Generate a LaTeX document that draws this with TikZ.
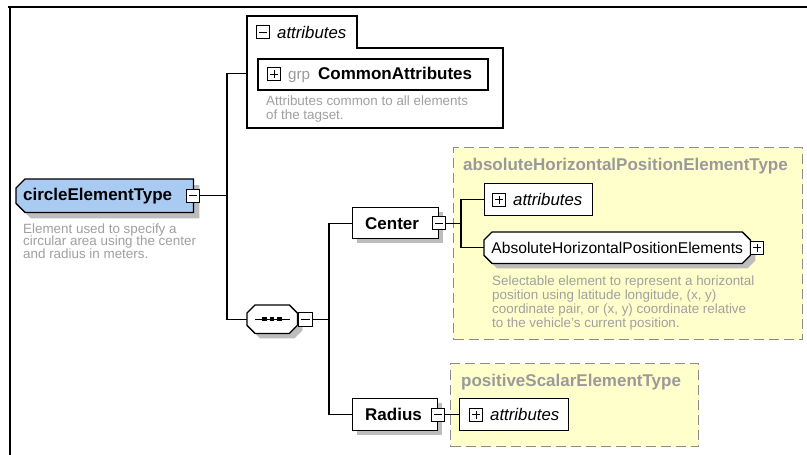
\documentclass[tikz,border=0pt]{standalone}
\usepackage{fontspec}
\setmainfont{Liberation Sans}
\usetikzlibrary{calc}

\definecolor{typefill}{HTML}{A9CBF2}
\definecolor{typebox}{HTML}{FFFFCC}
\definecolor{notegray}{HTML}{A0A0A0}
\definecolor{titlegray}{HTML}{9A9A9A}
\definecolor{dashgray}{HTML}{8C8C8C}
\definecolor{shade}{HTML}{BDBDBD}

\newcommand\xsdbold{\fontsize{17pt}{20pt}\selectfont\bfseries}
\newcommand\xsdplain{\fontsize{15.6pt}{18pt}\selectfont}
\newcommand\xsdital{\fontsize{16.8pt}{19pt}\selectfont\itshape}
\newcommand\xsdgrp{\fontsize{15.2pt}{18pt}\selectfont}

% octagon outline around node #1, chamfer #2, displaced by (#3,#4)
\newcommand\octpath[4]{%
  ([xshift=#2+#3,yshift=#4]#1.north west) -- ([xshift=-#2+#3,yshift=#4]#1.north east)
  -- ([xshift=#3,yshift=-#2+#4]#1.north east) -- ([xshift=#3,yshift=#2+#4]#1.south east)
  -- ([xshift=-#2+#3,yshift=#4]#1.south east) -- ([xshift=#2+#3,yshift=#4]#1.south west)
  -- ([xshift=#3,yshift=#2+#4]#1.south west) -- ([xshift=#3,yshift=-#2+#4]#1.north west) -- cycle}
% outline with the two left corners cut off
\newcommand\tagpath[4]{%
  ([xshift=#2+#3,yshift=#4]#1.north west) -- ([xshift=#3,yshift=#4]#1.north east)
  -- ([xshift=#3,yshift=#4]#1.south east) -- ([xshift=#2+#3,yshift=#4]#1.south west)
  -- ([xshift=#3,yshift=#2+#4]#1.south west) -- ([xshift=#3,yshift=-#2+#4]#1.north west) -- cycle}

\tikzset{
  frame/.style={line width=2.2pt, black},
  wire/.style={line width=1.2pt, black},
  shadowfill/.style={fill=shade},
  outline/.style={draw=black, line width=1.3pt},
  slot/.style={rectangle, inner sep=0pt, anchor=north west},
  elembox/.style={rectangle, draw, line width=1.3pt, fill=white, inner sep=0pt, anchor=north west},
  typearea/.style={rectangle, draw=dashgray, fill=typebox, line width=1pt,
    dash pattern=on 10pt off 5pt, anchor=north west, inner sep=0pt},
  typetitle/.style={anchor=base west, font=\xsdbold, text=titlegray, inner sep=0pt},
  groupline/.style={line width=1.2pt, draw=black, fill=white},
  note/.style={anchor=base west, align=left, text=notegray, inner sep=0pt},
  ctl/.style={rectangle, draw, line width=1pt, fill=white, minimum size=13pt, inner sep=0pt},
  minusctl/.style={ctl, path picture={
      \draw[line width=1pt] ([xshift=2.5pt]path picture bounding box.west)
        -- ([xshift=-2.5pt]path picture bounding box.east);}},
  plusctl/.style={ctl, path picture={
      \draw[line width=1pt] ([xshift=2.5pt]path picture bounding box.west)
        -- ([xshift=-2.5pt]path picture bounding box.east);
      \draw[line width=1pt] ([yshift=2.5pt]path picture bounding box.south)
        -- ([yshift=-2.5pt]path picture bounding box.north);}},
  seqdot/.style={rectangle, fill=black, minimum size=4.5pt, inner sep=0pt},
  boxshadow/.style={fill=shade, draw=none},
}

\begin{document}
\begin{tikzpicture}[x=1pt,y=-1pt]
\useasboundingbox (0,0) rectangle (807,455);
\fill[white] (0,0) rectangle (807,455);

% window frame
\draw[frame] (8,7) -- (807,7);
\draw[frame] (10,6) -- (10,455);

% complex type areas
\node[typearea, minimum width=349pt, minimum height=192pt] (ahpetype) at (453,147) {};
\node[typetitle] (ahpetitle) at (463,170.5) {absoluteHorizontalPositionElementType};
\node[typearea, minimum width=248pt, minimum height=83pt] (psetype) at (450,363) {};
\node[typetitle] (psetitle) at (461,386.5) {positiveScalarElementType};

% attribute group of circleElementType
\draw[groupline] (247,16) -- (357,16) -- (357,48) -- (503,48) -- (503,128) -- (247,128) -- cycle;
\coordinate (attrin) at (247,73.5);
\node[minusctl] (attrctl) at (263,32) {};
\node[anchor=west, font=\xsdital, inner sep=0pt] (attrlabel) at (277,32) {attributes};
\node[elembox, line width=1.8pt, minimum width=230pt, minimum height=31pt] (grp) at (257,58) {};
\node[plusctl] (grpctl) at ([xshift=17pt]grp.west) {};
\node[anchor=base west, font=\xsdgrp, text=titlegray, inner sep=0pt] (grpkw) at (288,79.5) {grp};
\node[anchor=base west, font=\xsdbold, inner sep=0pt] (grpname) at (318,79.5) {CommonAttributes};
\node[note, font=\fontsize{13.4pt}{14pt}\selectfont] (grpnote) at (266,119)
  {Attributes common to all elements\\of the tagset.};

% root type
\node[slot, minimum width=177pt, minimum height=33pt] (circ) at (16,179) {};
\fill[shadowfill] \tagpath{circ}{9pt}{6pt}{-6pt};
\filldraw[outline, fill=typefill] \tagpath{circ}{9pt}{0pt}{0pt};
\node[anchor=west, font=\xsdbold, inner sep=0pt] (circlabel) at ([xshift=7pt]circ.west) {circleElementType};
\node[minusctl] (circctl) at (circ.east) {};
\node[note, font=\fontsize{13.4pt}{12.5pt}\selectfont] (circnote) at (23,258)
  {Element used to specify a\\circular area using the center\\and radius in meters.};

% sequence compositor
\node[slot, minimum width=50pt, minimum height=28pt] (seq) at (247,305) {};
\fill[shadowfill] \octpath{seq}{8pt}{5pt}{-5pt};
\filldraw[outline, fill=white] \octpath{seq}{8pt}{0pt}{0pt};
\draw[line width=1pt] ([xshift=-17pt]seq.center) -- ([xshift=18pt]seq.center);
\node[seqdot] (seqdot1) at ([xshift=-7.5pt]seq.center) {};
\node[seqdot] (seqdot2) at (seq.center) {};
\node[seqdot] (seqdot3) at ([xshift=7.5pt]seq.center) {};
\node[minusctl, anchor=west, minimum size=14pt] (seqctl) at ([xshift=1pt]seq.east) {};

% Center element
\fill[boxshadow] (357,212) rectangle (443,243);
\node[elembox, minimum width=86pt, minimum height=31pt] (center) at (352,207) {};
\node[anchor=west, font=\xsdbold, inner sep=0pt] (centerlabel) at ([xshift=13pt]center.west) {Center};
\node[minusctl] (centerctl) at (center.east) {};
\node[elembox, minimum width=108pt, minimum height=32pt] (attr2) at (484,183) {};
\node[plusctl] (attr2ctl) at ([xshift=15pt]attr2.west) {};
\node[anchor=west, font=\xsdital, inner sep=0pt] (attr2t) at ([xshift=29pt]attr2.west) {attributes};
\node[slot, minimum width=266pt, minimum height=31pt] (ahpe) at (484,232) {};
\fill[shadowfill] \octpath{ahpe}{8pt}{5pt}{-5pt};
\filldraw[outline, fill=white] \octpath{ahpe}{8pt}{0pt}{0pt};
\node[font=\xsdplain, inner sep=0pt] (ahpelabel) at (ahpe.center) {AbsoluteHorizontalPositionElements};
\node[plusctl, anchor=west] (ahpectl) at (ahpe.east) {};
\node[note, font=\fontsize{13.4pt}{14pt}\selectfont] (ahpenote) at (492,327)
  {Selectable element to represent a horizontal\\position using latitude longitude, (x, y)\\coordinate pair, or (x, y) coordinate relative\\to the vehicle's current position.};

% Radius element
\fill[boxshadow] (357,403) rectangle (442,435);
\node[elembox, minimum width=85pt, minimum height=32pt] (radius) at (352,398) {};
\node[anchor=west, font=\xsdbold, inner sep=0pt] (radiuslabel) at ([xshift=13pt]radius.west) {Radius};
\node[minusctl] (radiusctl) at (radius.east) {};
\node[elembox, minimum width=109pt, minimum height=32pt] (attr3) at (459,398) {};
\node[plusctl] (attr3ctl) at ([xshift=17pt]attr3.west) {};
\node[anchor=west, font=\xsdital, inner sep=0pt] (attr3t) at ([xshift=31pt]attr3.west) {attributes};

% connectors
\coordinate (busA) at (227,196);
\coordinate (busB) at (329,319);
\coordinate (busC) at (461,222.5);
\draw[wire] (circctl.east) -- (circctl.east -| busA);
\draw[wire] (attrin) -| (busA) |- (seq.west);
\draw[wire] (seqctl.east) -- (seqctl.east -| busB);
\draw[wire] (center.west) -| (busB) |- (radius.west);
\draw[wire] (centerctl.east) -- (centerctl.east -| busC);
\draw[wire] (attr2.west) -| (busC) |- (ahpe.west);
\draw[wire] (radiusctl.east) -- (attr3.west);
\end{tikzpicture}
\end{document}
